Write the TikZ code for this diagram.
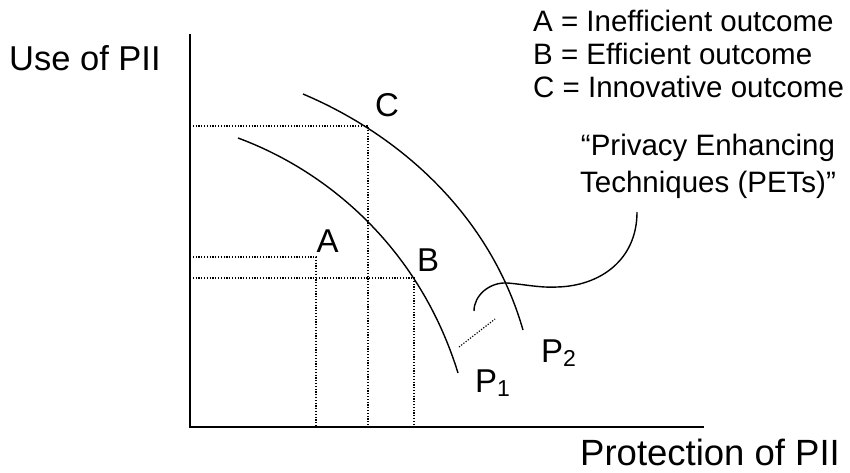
\documentclass[tikz,border=0pt]{standalone}
\usepackage{fontspec}
\setmainfont{Liberation Sans}
\begin{document}
\begin{tikzpicture}[x=1pt,y=-1pt,
  axis/.style={line width=2pt},
  curve/.style={line width=1.4pt},
  guide/.style={line width=1.2pt, dash pattern=on 1.2pt off 1.6pt},
  lbl/.style={inner sep=0pt, anchor=base, font=\fontsize{33}{33}\selectfont},
  axlbl/.style={inner sep=0pt, anchor=base west},
  small/.style={inner sep=0pt, font=\fontsize{29.5}{33}\selectfont}]
\useasboundingbox (0,0) rectangle (850,472);
% axes
\coordinate (O) at (190,427);
\coordinate (ytop) at (190,34);
\coordinate (xend) at (704,427);
\draw[axis] (ytop) -- (O) -- (xend);
% points
\coordinate (A) at (316,257);
\coordinate (B) at (414,278);
\coordinate (C) at (368,126);
% guides
\draw[guide] (A -| O) -- (A) -- (A |- O);
\draw[guide] (B -| O) -- (B) -- (B |- O);
\draw[guide] (C -| O) -- (C) -- (C |- O);
% frontier curves
\coordinate (p1s) at (238,138);
\coordinate (p1e) at (458,373);
\coordinate (p2s) at (303,94);
\coordinate (p2e) at (523,330);
\draw[curve] (p1s) .. controls (330,172) and (420,250) .. (p1e);
\draw[curve] (p2s) .. controls (400,135) and (490,215) .. (p2e);
% squiggle callout
\coordinate (sq0) at (474,311);
\coordinate (sq1) at (507,283);
\coordinate (sq2) at (557,287);
\coordinate (sq3) at (637,212);
\draw[curve] (sq0) .. controls (474,295) and (490,282) .. (sq1)
  .. controls (522,284) and (540,288) .. (sq2)
  .. controls (600,286) and (637,260) .. (sq3);
\coordinate (d0) at (459,347);
\coordinate (d1) at (495,319);
\draw[guide] (d0) -- (d1);
% labels
\node[lbl] (lA) at (327.5,252) {A};
\node[lbl] (lB) at (428,271) {B};
\node[lbl] (lC) at (387,116) {C};
\node[lbl, anchor=base west] (lP1) at (475,392) {P\raisebox{-4pt}{\fontsize{23}{23}\selectfont 1}};
\node[lbl, anchor=base west] (lP2) at (541,362) {P\raisebox{-4pt}{\fontsize{23}{23}\selectfont 2}};
\node[axlbl, font=\fontsize{34.5}{34.5}\selectfont] (ylab) at (9,70) {Use of PII};
\node[axlbl, font=\fontsize{36.5}{36.5}\selectfont] (xlab) at (580,465) {Protection of PII};
% legend
\node[small, anchor=base west] (leg1) at (533,31) {A = Inefficient outcome};
\node[small, anchor=base west] (leg2) at (533,64) {B = Efficient outcome};
\node[small, anchor=base west] (leg3) at (533,97) {C = Innovative outcome};
% PETs
\node[small, anchor=base] (pets1) at (708,155) {“Privacy Enhancing};
\node[small, anchor=base] (pets2) at (708,192) {Techniques (PETs)”};
\end{tikzpicture}
\end{document}
